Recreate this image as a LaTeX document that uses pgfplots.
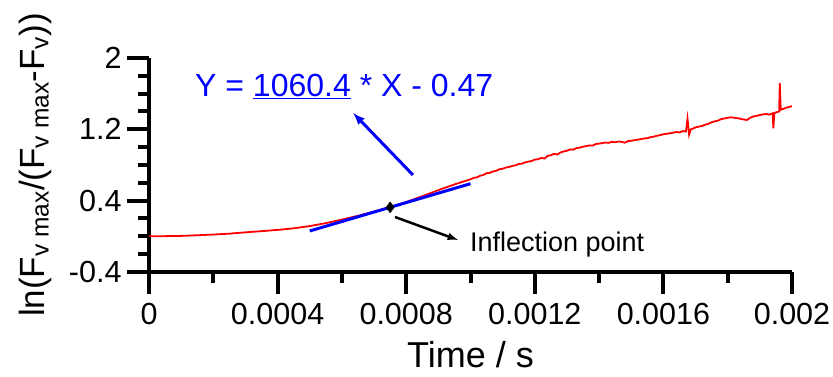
\documentclass[border=0pt]{standalone}
\usepackage{fontspec}
\setmainfont{Liberation Sans}
\usepackage{pgfplots}
\pgfplotsset{compat=1.18}
\begin{document}
\begin{tikzpicture}
\useasboundingbox (-149pt,-105pt) rectangle (684pt,272pt);
\begin{axis}[
  scale only axis, width=643pt, height=214pt,
  at={(0,0)}, anchor=south west,
  xmin=0, xmax=0.002, ymin=-0.4, ymax=2,
  axis lines*=left,
  axis line style={line width=4.5pt, black},
  clip=false,
  scaled x ticks=false, scaled y ticks=false,
  xtick={0,0.0004,0.0008,0.0012,0.0016,0.002},
  xticklabels={0,0.0004,0.0008,0.0012,0.0016,0.002},
  ytick={-0.4,0.4,1.2,2},
  yticklabels={-0.4,0.4,1.2,2},
  minor x tick num=1, minor y tick num=3,
  tick align=outside,
  major tick length=22pt, minor tick length=11pt,
  major tick style={line width=4pt, black},
  minor tick style={line width=4pt, black},
  ticklabel style={font=\fontsize{30.5}{33}\selectfont},
  xticklabel style={yshift=-6pt},
  yticklabel style={xshift=-2pt},
  xlabel={Time / s},
  ylabel={ln(F\textsubscript{v max}/(F\textsubscript{v max}-F\textsubscript{v}))},
  xlabel style={font=\fontsize{36}{40}\selectfont, at={(axis description cs:0.5,-0.448)}, anchor=base},
  ylabel style={font=\fontsize{35}{40}\selectfont, at={(axis description cs:-0.1773,0.5)}, anchor=center},
]
\addplot[red, line width=1.8pt] coordinates {
(0,0.000) (0.00005,0.002) (0.0001,0.005) (0.00015,0.012) (0.0002,0.020)
(0.00025,0.030) (0.0003,0.045) (0.00035,0.058) (0.0004,0.072) (0.00045,0.090)
(0.0005,0.115) (0.00055,0.148) (0.0006,0.188) (0.00065,0.230) (0.0007,0.278)
(0.00075,0.325) (0.0008,0.385) (0.00085,0.450) (0.0009,0.518) (0.00095,0.582)
(0.00100,0.640) (0.00101,0.655) (0.00102,0.662) (0.00103,0.680) (0.00104,0.688)
(0.00105,0.708) (0.00106,0.712) (0.00107,0.728) (0.00108,0.735) (0.00109,0.752)
(0.00110,0.758) (0.00111,0.772) (0.00112,0.778) (0.00113,0.790) (0.00114,0.796)
(0.00115,0.812) (0.00116,0.815) (0.00117,0.830) (0.00118,0.838) (0.00119,0.845)
(0.00120,0.860) (0.00121,0.865) (0.00122,0.880) (0.00123,0.872) (0.00124,0.902)
(0.00125,0.910) (0.00126,0.925) (0.00127,0.918) (0.00128,0.940) (0.00129,0.952)
(0.00130,0.960) (0.00131,0.975) (0.00132,0.972) (0.00133,0.990) (0.00134,0.995)
(0.00135,1.005) (0.00136,1.012) (0.00137,1.020) (0.00138,1.018) (0.00139,1.035)
(0.00140,1.040) (0.00141,1.045) (0.00142,1.052) (0.00143,1.048) (0.00144,1.060)
(0.00145,1.055) (0.00146,1.064) (0.00147,1.060) (0.00148,1.050) (0.00149,1.068)
(0.00150,1.072) (0.00151,1.078) (0.00152,1.085) (0.00153,1.090) (0.00154,1.098)
(0.00155,1.100) (0.00156,1.112) (0.00157,1.118) (0.00158,1.128) (0.00159,1.135)
(0.00160,1.145) (0.00161,1.150) (0.00162,1.155) (0.00163,1.162) (0.00164,1.170)
(0.00165,1.165) (0.00166,1.180) (0.00167,1.175) (0.001675,1.320) (0.00168,1.140)
(0.001685,1.200) (0.00169,1.205) (0.00170,1.222) (0.00171,1.230) (0.00172,1.238)
(0.00173,1.252) (0.00174,1.262) (0.00175,1.280) (0.00176,1.290) (0.00177,1.298)
(0.00178,1.315) (0.00179,1.322) (0.00180,1.330) (0.00181,1.335) (0.00182,1.330)
(0.00183,1.325) (0.00184,1.318) (0.00185,1.310) (0.00186,1.305) (0.00187,1.330)
(0.00188,1.345) (0.00189,1.352) (0.00190,1.360) (0.00191,1.368) (0.00192,1.372)
(0.00193,1.365) (0.00194,1.380) (0.001942,1.210) (0.001945,1.380) (0.00195,1.390)
(0.00196,1.400) (0.001962,1.720) (0.001965,1.420) (0.00197,1.425) (0.00198,1.440)
(0.00199,1.450) (0.00200,1.460)
};
\addplot[blue, line width=3pt] coordinates {(0.0005,0.0602) (0.001,0.5904)};
\addplot[only marks, mark=diamond*, mark size=5.5pt, black] coordinates {(0.00075,0.325)};
\draw[blue, line width=3pt, -latex] (axis cs:0.000821,0.688) -- (axis cs:0.000635,1.383);
\draw[black, line width=2.5pt, -latex] (axis cs:0.000765,0.217) -- (axis cs:0.000961,-0.041);
\node[blue, anchor=base west, inner sep=0pt, font=\fontsize{32}{36}\selectfont] at (axis cs:0.000143,1.566) {Y = \underline{1060.4} * X - 0.47};
\node[black, anchor=base west, inner sep=0pt, font=\fontsize{27}{30}\selectfont] at (axis cs:0.000998,-0.172) {Inflection point};
\end{axis}
\end{tikzpicture}
\end{document}
